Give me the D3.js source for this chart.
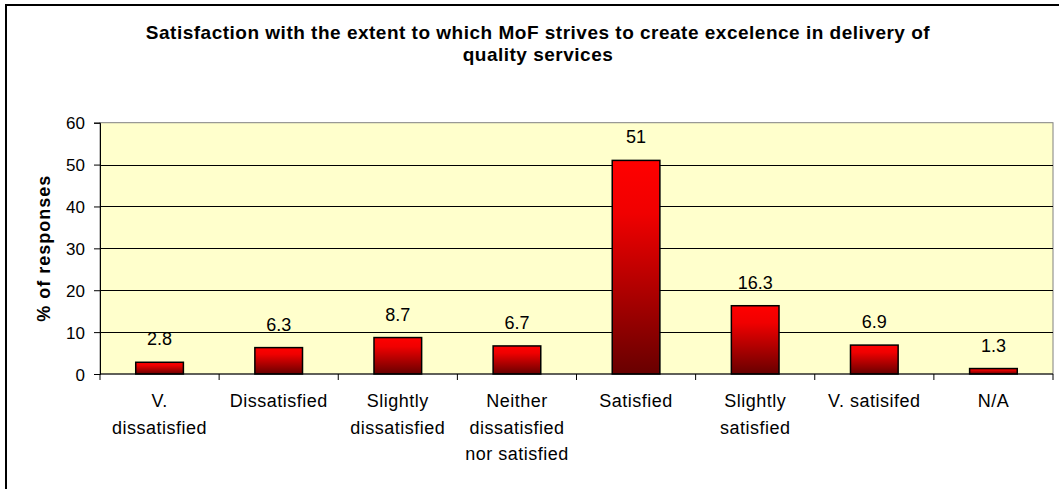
<!DOCTYPE html>
<html>
<head>
<meta charset="utf-8">
<script src="https://cdn.jsdelivr.net/npm/d3@7"></script>
<style>
  body { margin: 0; background: #fff; }
  text { font-family: "Liberation Sans", Arial, sans-serif; fill: #000; }
</style>
</head>
<body>
<svg id="chart"></svg>
<script>
const categories = ["V. dissatisfied", "Dissatisfied", "Slightly dissatisfied",
    "Neither dissatisfied nor satisfied", "Satisfied", "Slightly satisfied",
    "V. satisifed", "N/A"];
const tickLabels = [["V.", "dissatisfied"], ["Dissatisfied"], ["Slightly", "dissatisfied"],
    ["Neither", "dissatisfied", "nor satisfied"], ["Satisfied"], ["Slightly", "satisfied"],
    ["V. satisifed"], ["N/A"]];
const values = [2.8, 6.3, 8.7, 6.7, 51, 16.3, 6.9, 1.3];
const yTicks = [0, 10, 20, 30, 40, 50, 60];
const titleLines = ["Satisfaction with the extent to which MoF strives to create excelence in delivery of",
    "quality services"];

document.addEventListener("DOMContentLoaded", drawChart);

function drawChart() {
    const width = 1059;
    const height = 489;
    const plot = { left: 100, right: 1053, top: 122.7, bottom: 374 };

    const svg = d3.select("svg#chart")
        .attr("width", width)
        .attr("height", height);

    // gradient for bars
    const grad = svg.append("defs").append("linearGradient")
        .attr("id", "barGrad")
        .attr("x1", 0).attr("y1", 0)
        .attr("x2", 0).attr("y2", 1);
    grad.append("stop").attr("offset", "0%").attr("stop-color", "#ff0000");
    grad.append("stop").attr("offset", "25%").attr("stop-color", "#f00000");
    grad.append("stop").attr("offset", "100%").attr("stop-color", "#680000");

    // outer frame
    svg.append("rect")
        .attr("x", 6).attr("y", 5)
        .attr("width", 1200).attr("height", 600)
        .attr("fill", "#fff")
        .attr("stroke", "#000")
        .attr("stroke-width", 2);

    const x = d3.scaleBand()
        .domain(categories)
        .range([plot.left, plot.right])
        .paddingInner(0)
        .paddingOuter(0);
    const bw = x.bandwidth();

    const y = d3.scaleLinear()
        .domain([0, 60])
        .range([plot.bottom, plot.top]);

    // plot area
    svg.append("rect")
        .attr("x", plot.left).attr("y", plot.top)
        .attr("width", plot.right - plot.left)
        .attr("height", plot.bottom - plot.top)
        .attr("fill", "#ffffcc")
        .attr("stroke", "#808080")
        .attr("stroke-width", 1);

    // gridlines
    svg.append("g")
        .selectAll("line")
        .data(yTicks.filter(d => d > 0 && d < 60))
        .join("line")
        .attr("x1", plot.left).attr("x2", plot.right)
        .attr("y1", d => Math.round(y(d)) + 0.5)
        .attr("y2", d => Math.round(y(d)) + 0.5)
        .attr("stroke", "#000")
        .attr("stroke-width", 1);

    // bars
    svg.append("g")
        .selectAll("rect")
        .data(values)
        .join("rect")
        .attr("x", (d, i) => x(categories[i]) + bw * 0.3)
        .attr("y", d => y(d))
        .attr("width", bw * 0.4)
        .attr("height", d => plot.bottom - y(d))
        .attr("fill", "url(#barGrad)")
        .attr("stroke", "#000")
        .attr("stroke-width", 1.5);

    // value labels
    svg.append("g")
        .selectAll("text")
        .data(values)
        .join("text")
        .attr("x", (d, i) => x(categories[i]) + bw / 2)
        .attr("y", d => y(d) - 17)
        .attr("text-anchor", "middle")
        .attr("font-size", "18px")
        .text(d => String(d));

    // y axis
    const yAxis = svg.append("g")
        .attr("transform", `translate(${plot.left},0)`)
        .call(d3.axisLeft(y).tickValues(yTicks).tickSize(6).tickPadding(9));
    yAxis.select(".domain").attr("stroke", "#000");
    yAxis.selectAll(".tick line").attr("stroke", "#000");
    yAxis.selectAll(".tick text")
        .attr("font-size", "17px")
        .attr("font-family", "'Liberation Sans', Arial, sans-serif")
        .attr("fill", "#000")
        .attr("dy", "0.36em");

    // x axis
    const bounds = categories.map(c => x(c)).concat([plot.right]);
    svg.append("line")
        .attr("x1", plot.left).attr("x2", plot.right)
        .attr("y1", plot.bottom).attr("y2", plot.bottom)
        .attr("stroke", "#000");
    svg.append("g")
        .selectAll("line")
        .data(bounds)
        .join("line")
        .attr("x1", d => d).attr("x2", d => d)
        .attr("y1", plot.bottom).attr("y2", plot.bottom + 6)
        .attr("stroke", "#000");

    const labels = svg.append("g")
        .selectAll("text")
        .data(tickLabels)
        .join("text")
        .attr("x", (d, i) => x(categories[i]) + bw / 2)
        .attr("y", 407)
        .attr("text-anchor", "middle")
        .attr("font-size", "18px")
        .attr("letter-spacing", "0.5px");
    labels.selectAll("tspan")
        .data(d => d)
        .join("tspan")
        .attr("x", function () { return d3.select(this.parentNode).attr("x"); })
        .attr("dy", (d, i) => i === 0 ? 0 : 26.5)
        .text(d => d);

    // y axis title
    svg.append("text")
        .attr("transform", `translate(50,${(plot.top + plot.bottom) / 2}) rotate(-90)`)
        .attr("text-anchor", "middle")
        .attr("font-size", "18px")
        .attr("font-weight", "bold")
        .attr("letter-spacing", "1px")
        .text("% of responses");

    // chart title
    svg.append("g")
        .selectAll("text")
        .data(titleLines)
        .join("text")
        .attr("x", 538)
        .attr("y", (d, i) => 39 + i * 22)
        .attr("text-anchor", "middle")
        .attr("font-size", "19px")
        .attr("font-weight", "bold")
        .attr("letter-spacing", "0.5px")
        .text(d => d);
}
</script>
</body>
</html>
